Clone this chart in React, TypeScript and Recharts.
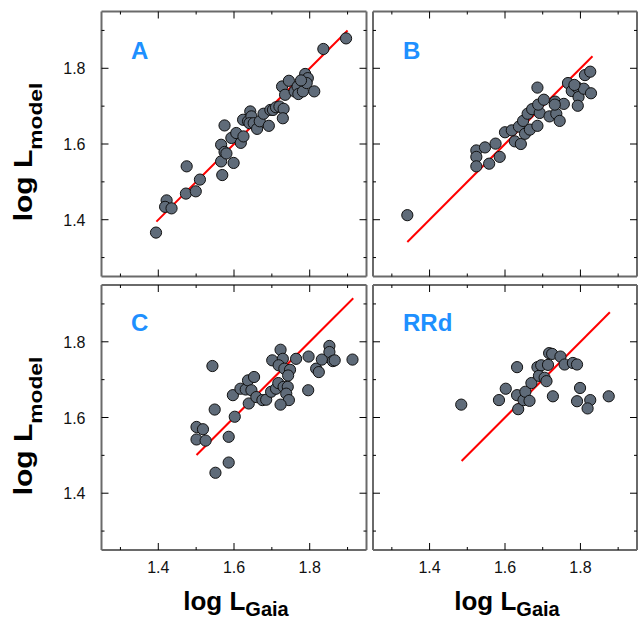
import React from 'react';
import { ScatterChart, Scatter, XAxis, YAxis } from 'recharts';

// [log L_Gaia, log L_model]
const panelA: number[][] = [
  [1.394, 1.366], [1.422, 1.451], [1.418, 1.434], [1.435, 1.430], [1.473, 1.469], [1.475, 1.541],
  [1.499, 1.475], [1.510, 1.506], [1.569, 1.518], [1.566, 1.554], [1.566, 1.598], [1.575, 1.579],
  [1.580, 1.575], [1.575, 1.649], [1.599, 1.550], [1.593, 1.616], [1.606, 1.629], [1.618, 1.603],
  [1.625, 1.620], [1.624, 1.664], [1.637, 1.660], [1.643, 1.686], [1.646, 1.673], [1.641, 1.655],
  [1.652, 1.655], [1.661, 1.640], [1.668, 1.660], [1.678, 1.680], [1.692, 1.648], [1.696, 1.690],
  [1.703, 1.690], [1.711, 1.697], [1.720, 1.699], [1.731, 1.693], [1.729, 1.668], [1.727, 1.752],
  [1.735, 1.730], [1.745, 1.767], [1.760, 1.739], [1.768, 1.752], [1.770, 1.732], [1.782, 1.739],
  [1.788, 1.785], [1.795, 1.774], [1.792, 1.761], [1.812, 1.739], [1.836, 1.851], [1.896, 1.879],
  [1.777, 1.768],
];

const panelB: number[][] = [
  [1.341, 1.412], [1.524, 1.583], [1.524, 1.566], [1.524, 1.541], [1.547, 1.591], [1.558, 1.548],
  [1.575, 1.601], [1.586, 1.566], [1.600, 1.631], [1.618, 1.636], [1.626, 1.607], [1.642, 1.600],
  [1.637, 1.646], [1.648, 1.661], [1.653, 1.627], [1.660, 1.680], [1.666, 1.638], [1.672, 1.692],
  [1.686, 1.648], [1.692, 1.682], [1.688, 1.704], [1.703, 1.717], [1.686, 1.749], [1.718, 1.673],
  [1.733, 1.712], [1.736, 1.680], [1.745, 1.661], [1.756, 1.706], [1.767, 1.761], [1.777, 1.740],
  [1.791, 1.750], [1.795, 1.724], [1.793, 1.701], [1.809, 1.746], [1.812, 1.782], [1.826, 1.791],
  [1.828, 1.734], [1.784, 1.756], [1.732, 1.704],
];

const panelC: number[][] = [
  [1.543, 1.736], [1.549, 1.621], [1.501, 1.575], [1.518, 1.569], [1.501, 1.542], [1.525, 1.539],
  [1.551, 1.454], [1.586, 1.481], [1.586, 1.549], [1.602, 1.602], [1.597, 1.659], [1.617, 1.676],
  [1.631, 1.674], [1.637, 1.698], [1.653, 1.707], [1.646, 1.672], [1.639, 1.637], [1.659, 1.654],
  [1.675, 1.646], [1.685, 1.647], [1.698, 1.668], [1.711, 1.676], [1.717, 1.691], [1.731, 1.681],
  [1.742, 1.681], [1.738, 1.663], [1.745, 1.646], [1.723, 1.634], [1.701, 1.751], [1.723, 1.779],
  [1.729, 1.755], [1.718, 1.738], [1.733, 1.729], [1.748, 1.726], [1.743, 1.711], [1.764, 1.755],
  [1.797, 1.761], [1.796, 1.672], [1.817, 1.729], [1.824, 1.720], [1.832, 1.753], [1.852, 1.789],
  [1.852, 1.773], [1.861, 1.749], [1.866, 1.751], [1.913, 1.753],
];

const panelD: number[][] = [
  [1.484, 1.634], [1.584, 1.646], [1.602, 1.676], [1.632, 1.733], [1.632, 1.659], [1.635, 1.622],
  [1.649, 1.646], [1.654, 1.668], [1.665, 1.644], [1.670, 1.691], [1.686, 1.733], [1.690, 1.710],
  [1.696, 1.738], [1.705, 1.705], [1.710, 1.696], [1.714, 1.739], [1.717, 1.770], [1.725, 1.768],
  [1.727, 1.656], [1.747, 1.761], [1.758, 1.740], [1.780, 1.744], [1.791, 1.740], [1.799, 1.678],
  [1.791, 1.643], [1.826, 1.646], [1.819, 1.624], [1.875, 1.656],
];

// one-to-one lines: [start, end] in log L
const fitA = [1.395, 1.9];
const fitB = [1.341, 1.832];
const fitC = [1.501, 1.915];
const fitD = [1.485, 1.878];

const panelLabels = ['A', 'B', 'C', 'RRd'];
const axisTicks = [1.3, 1.4, 1.5, 1.6, 1.7, 1.8, 1.9];
const majorTicks = ['1.4', '1.6', '1.8'];
const domain: [number, number] = [1.25, 1.95];

const FONT = '"Liberation Sans", Arial, Helvetica, sans-serif';
const FRAME = '#6a6a6a';
const POINT_FILL = '#5f6b79';

const isMajor = (v: number) => majorTicks.includes(v.toFixed(1));

const makeBottomTick = (labels: boolean) => (props: any) => {
  const { x, y, payload } = props;
  const major = isMajor(payload.value);
  return (
    <g>
      <line x1={x} x2={x} y1={y} y2={y - (major ? 7 : 3)} stroke="#000" strokeWidth={1} />
      {labels && major ? (
        <text x={x} y={y + 23} textAnchor="middle" fontFamily={FONT} fontSize={16} fill="#111">
          {payload.value.toFixed(1)}
        </text>
      ) : null}
    </g>
  );
};

const topTick = (props: any) => {
  const { x, y, payload } = props;
  const major = isMajor(payload.value);
  return <line x1={x} x2={x} y1={y} y2={y + (major ? 7 : 3)} stroke="#000" strokeWidth={1} />;
};

const makeLeftTick = (labels: boolean) => (props: any) => {
  const { x, y, payload } = props;
  const major = isMajor(payload.value);
  return (
    <g>
      <line x1={x} x2={x + (major ? 7 : 3)} y1={y} y2={y} stroke="#000" strokeWidth={1} />
      {labels && major ? (
        <text x={x - 16} y={y + 6} textAnchor="end" fontFamily={FONT} fontSize={16} fill="#111">
          {payload.value.toFixed(1)}
        </text>
      ) : null}
    </g>
  );
};

const rightTick = (props: any) => {
  const { x, y, payload } = props;
  const major = isMajor(payload.value);
  return <line x1={x} x2={x - (major ? 7 : 3)} y1={y} y2={y} stroke="#000" strokeWidth={1} />;
};

const dot = (props: any) => (
  <circle cx={props.cx} cy={props.cy} r={5.6} fill={POINT_FILL} stroke="#111" strokeWidth={1} />
);
const noDot = () => <g />;

type PanelProps = {
  data: number[][];
  fit: number[];
  margin: { top: number; right: number; bottom: number; left: number };
  xLabels: boolean;
  yLabels: boolean;
};

function Panel({ data, fit, margin, xLabels, yLabels }: PanelProps) {
  const pts = data.map(([x, y]) => ({ x, y }));
  const line = fit.map((v) => ({ x: v, y: v }));
  const axisLine = { stroke: FRAME, strokeWidth: 2 };
  return (
    <div style={{ position: 'absolute', left: 0, top: 0 }}>
      <ScatterChart width={638} height={619} margin={margin}>
        <XAxis
          type="number" dataKey="x" domain={domain} ticks={axisTicks} interval={0}
          allowDataOverflow height={1} tickSize={0} tickMargin={0} tickLine={false}
          axisLine={axisLine} tick={makeBottomTick(xLabels)}
        />
        <XAxis
          xAxisId="top" orientation="top" type="number" dataKey="x" domain={domain}
          ticks={axisTicks} interval={0} allowDataOverflow height={1} tickSize={0}
          tickMargin={0} tickLine={false} axisLine={axisLine} tick={topTick}
        />
        <YAxis
          type="number" dataKey="y" domain={domain} ticks={axisTicks} interval={0}
          allowDataOverflow width={1} tickSize={0} tickMargin={0} tickLine={false}
          axisLine={axisLine} tick={makeLeftTick(yLabels)}
        />
        <YAxis
          yAxisId="right" orientation="right" type="number" dataKey="y" domain={domain}
          ticks={axisTicks} interval={0} allowDataOverflow width={1} tickSize={0}
          tickMargin={0} tickLine={false} axisLine={axisLine} tick={rightTick}
        />
        <Scatter data={pts} xAxisId="top" yAxisId="right" shape={noDot} isAnimationActive={false} />
        <Scatter
          data={line} line={{ stroke: '#ff0000', strokeWidth: 2 }} shape={noDot}
          isAnimationActive={false}
        />
        <Scatter data={pts} shape={dot} isAnimationActive={false} />
      </ScatterChart>
    </div>
  );
}

export default function App() {
  const labelStyle = { fontFamily: FONT, fontWeight: 700 as const };
  // plot boxes: A/C x 101.5–366.5, B/D x 373–637; top row y 11.5–276.5, bottom row y 285–550
  const topM = 10.5, botM = 341.5, top2 = 284, bot2 = 68;
  const leftA = 100.5, rightA = 270.5, leftB = 372, rightB = 0;
  return (
    <div style={{ position: 'absolute', left: 0, top: 0, width: 638, height: 619, background: '#fff' }}>
      <Panel data={panelA} fit={fitA} margin={{ top: topM, bottom: botM, left: leftA, right: rightA }} xLabels={false} yLabels />
      <Panel data={panelB} fit={fitB} margin={{ top: topM, bottom: botM, left: leftB, right: rightB }} xLabels={false} yLabels={false} />
      <Panel data={panelC} fit={fitC} margin={{ top: top2, bottom: bot2, left: leftA, right: rightA }} xLabels yLabels />
      <Panel data={panelD} fit={fitD} margin={{ top: top2, bottom: bot2, left: leftB, right: rightB }} xLabels yLabels={false} />
      <svg width={638} height={619} style={{ position: 'absolute', left: 0, top: 0, pointerEvents: 'none' }}>
        <g style={labelStyle} fill="#1E90FF" fontSize={24}>
          <text x={131} y={58.5}>{panelLabels[0]}</text>
          <text x={403} y={58.5}>{panelLabels[1]}</text>
          <text x={131} y={331}>{panelLabels[2]}</text>
          <text x={403} y={331}>{panelLabels[3]}</text>
        </g>
        <g style={labelStyle} fill="#000" fontSize={25}>
          <text transform="translate(32,152) rotate(-90) scale(1.2,1)" textAnchor="middle">
            log L<tspan fontSize={19} dy={10}>model</tspan>
          </text>
          <text transform="translate(32,426) rotate(-90) scale(1.2,1)" textAnchor="middle">
            log L<tspan fontSize={19} dy={10}>model</tspan>
          </text>
          <text x={236} y={610} textAnchor="middle" fontSize={26}>
            log L<tspan fontSize={20} dy={6}>Gaia</tspan>
          </text>
          <text x={507} y={610} textAnchor="middle" fontSize={26}>
            log L<tspan fontSize={20} dy={6}>Gaia</tspan>
          </text>
        </g>
      </svg>
    </div>
  );
}
